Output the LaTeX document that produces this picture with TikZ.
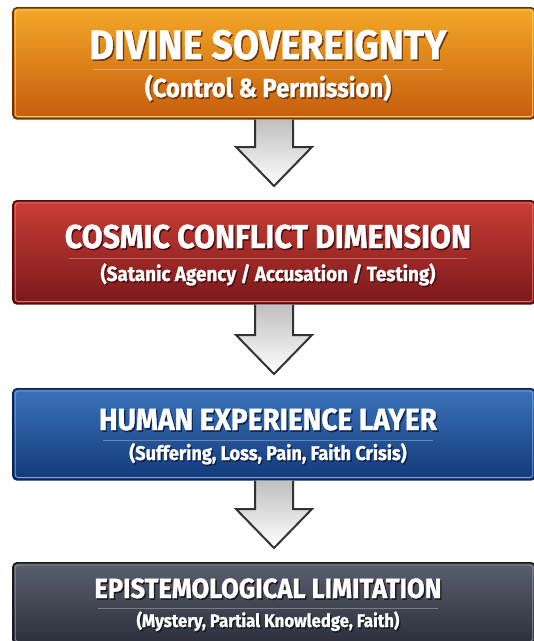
\documentclass[tikz,border=0pt]{standalone}
\usepackage{fontspec}
\setmainfont{Fira Sans}[FakeStretch=0.92, BoldFeatures={FakeBold=1.2}]
\usetikzlibrary{positioning,calc}

\definecolor{goldtop}{HTML}{F3A827}
\definecolor{goldbot}{HTML}{C65C0E}
\definecolor{goldedge}{HTML}{6E3306}
\definecolor{goldhi}{HTML}{FAD06A}
\definecolor{redtop}{HTML}{C93E34}
\definecolor{redbot}{HTML}{7A181B}
\definecolor{rededge}{HTML}{4E0C0E}
\definecolor{redhi}{HTML}{DE7468}
\definecolor{bluetop}{HTML}{3A73B9}
\definecolor{bluebot}{HTML}{12397A}
\definecolor{blueedge}{HTML}{0B2150}
\definecolor{bluehi}{HTML}{79A3DA}
\definecolor{slatetop}{HTML}{5A5F6D}
\definecolor{slatebot}{HTML}{2C2F3C}
\definecolor{slateedge}{HTML}{17191F}
\definecolor{slatehi}{HTML}{8D929E}
\definecolor{arrowline}{HTML}{333333}

\tikzset{
  layer/.style={draw=#1edge, line width=1.6pt, rounded corners=4pt,
    top color=#1top, bottom color=#1bot, minimum width=522pt,
    inner sep=0pt, anchor=north},
  layerline/.style={draw=#1hi, line width=0.8pt, rounded corners=3pt},
  txt/.style={text=white, anchor=base, inner sep=0pt},
  divider/.style={draw=white, opacity=.3, line width=.8pt},
  hollow/.style={draw=arrowline, line width=2pt, line join=miter,
    top color=black!25, middle color=white, bottom color=white}
}

% one coloured layer: name, colour, top y, height
\newcommand{\layerbox}[4]{%
  \node[layer=#2, minimum height=#4pt] (#1) at (274,#3) {};
  \draw[layerline=#2] ([shift={(3pt,-3pt)}]#1.north west)
    rectangle ([shift={(-3pt,3pt)}]#1.south east);}

% white text with a dark shadow: name, baseline y, size, colour, text
\newcommand{\shadowed}[5]{%
  \node[txt, font=\bfseries\fontsize{#3}{#3}\selectfont] (#1) at (268,#2)
    {\rlap{\kern1.3pt\raisebox{-1.6pt}{\color{#4edge}#5}}#5};}

% hollow arrow from one layer down to the next
\newcommand{\flowarrow}[2]{%
  \draw[hollow] let \p1=(#1.south), \p2=(#2.north) in
    (\x1-19pt,\y1) -- (\x1-19pt,\y2+53pt) -- (\x1-38pt,\y2+53pt)
    -- (\x1,\y2+14pt) -- (\x1+38pt,\y2+53pt) -- (\x1+19pt,\y2+53pt)
    -- (\x1+19pt,\y1);}

\begin{document}
\begin{tikzpicture}[x=1pt,y=-1pt]
\useasboundingbox (0,0) rectangle (534,641);
\clip (0,0) rectangle (534,641);
\fill[white] (0,0) rectangle (534,641);

% layers
\layerbox{b1}{gold}{7}{111}
\layerbox{b2}{red}{200}{103}
\layerbox{b3}{blue}{388}{91}
\layerbox{b4}{slate}{562}{81}

% arrows
\flowarrow{b1}{b2}
\flowarrow{b2}{b3}
\flowarrow{b3}{b4}

% texts
\shadowed{t1}{59}{41}{gold}{DIVINE SOVEREIGNTY}
\shadowed{s1}{97}{26}{gold}{(Control \& Permission)}
\shadowed{t2}{248}{33}{red}{COSMIC CONFLICT DIMENSION}
\shadowed{s2}{281}{20.5}{red}{(Satanic Agency / Accusation / Testing)}
\shadowed{t3}{430}{30.5}{blue}{HUMAN EXPERIENCE LAYER}
\shadowed{s3}{460}{19.8}{blue}{(Suffering, Loss, Pain, Faith Crisis)}
\shadowed{t4}{598}{27.7}{slate}{EPISTEMOLOGICAL LIMITATION}
\shadowed{s4}{627}{18.2}{slate}{(Mystery, Partial Knowledge, Faith)}

% dividers
\foreach \t in {t1,t2,t3,t4}
  \draw[divider] ($(\t.base west)+(4pt,-10pt)$) -- ($(\t.base east)+(-4pt,-10pt)$);
\end{tikzpicture}
\end{document}
